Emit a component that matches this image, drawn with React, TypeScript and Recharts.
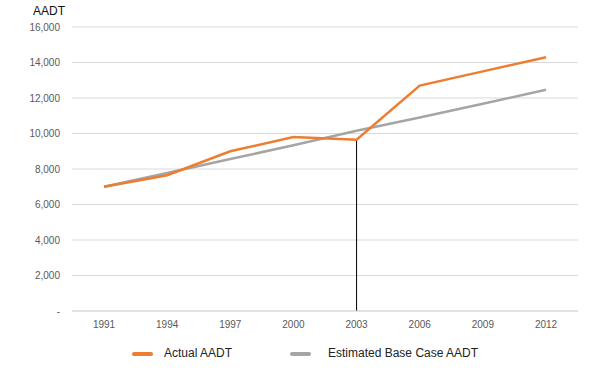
import React from 'react';
import {CartesianGrid, Legend, Line, LineChart, ReferenceLine, XAxis, YAxis} from "recharts";

const years = ['1991', '1994', '1997', '2000', '2003', '2006', '2009', '2012'];
const actualAadt = [7000, 7650, 9000, 9800, 9650, 12700, 13500, 14300];
const estimatedAadt = [7000, 7780, 8560, 9340, 10150, 10900, 11680, 12460];
const yTicks = [0, 2000, 4000, 6000, 8000, 10000, 12000, 14000, 16000];

const chartData = years.map((year, i) => ({
    year,
    actual: actualAadt[i],
    estimated: estimatedAadt[i],
}));

const ORANGE = '#ED7D31';
const GREY = '#A5A5A5';
const FONT = '"Liberation Sans", Arial, sans-serif';

const formatTick = (v: number) => (v === 0 ? '-' : v.toLocaleString('en-US'));

const LegendContent = () => (
    <div style={{height: 38, position: 'relative', fontFamily: FONT, fontSize: 12, color: '#222'}}>
        <div style={{position: 'absolute', left: 132, top: 11, width: 21, height: 4, borderRadius: 2, background: ORANGE}}/>
        <span style={{position: 'absolute', left: 164, top: 5}}>Actual AADT</span>
        <div style={{position: 'absolute', left: 290, top: 11, width: 21, height: 4, borderRadius: 2, background: GREY}}/>
        <span style={{position: 'absolute', left: 328, top: 5}}>Estimated Base Case AADT</span>
    </div>
);

const App: React.FC = () => {
    return (
        <div style={{position: 'absolute', left: 0, top: 0, width: 605, height: 379, fontFamily: FONT}}>
            <div style={{position: 'absolute', left: 33, top: 4, fontSize: 12, color: '#111'}}>AADT</div>
            <LineChart width={605} height={379} data={chartData} margin={{top: 27, right: 27, left: 0, bottom: 0}}>
                <CartesianGrid vertical={false} stroke="#D9D9D9"/>
                <XAxis
                    dataKey="year"
                    height={30}
                    padding={{left: 32, right: 32}}
                    tickLine={false}
                    tickSize={0}
                    tickMargin={10}
                    axisLine={{stroke: '#D9D9D9'}}
                    tick={{fill: '#595959', fontSize: 10, fontFamily: FONT}}
                />
                <YAxis
                    width={72}
                    domain={[0, 16000]}
                    ticks={yTicks}
                    tickFormatter={formatTick}
                    axisLine={false}
                    tickLine={false}
                    tickSize={0}
                    tickMargin={12}
                    tick={{fill: '#595959', fontSize: 10, fontFamily: FONT}}
                />
                <ReferenceLine
                    segment={[{x: '2003', y: 0}, {x: '2003', y: 9650}]}
                    stroke="#000"
                    strokeWidth={1}
                />
                <Line type="linear" dataKey="estimated" stroke={GREY} strokeWidth={2.5} dot={false} isAnimationActive={false}/>
                <Line type="linear" dataKey="actual" stroke={ORANGE} strokeWidth={2.5} dot={false} isAnimationActive={false}/>
                <Legend verticalAlign="bottom" height={38} content={<LegendContent/>}/>
            </LineChart>
        </div>
    );
};

export default App;
